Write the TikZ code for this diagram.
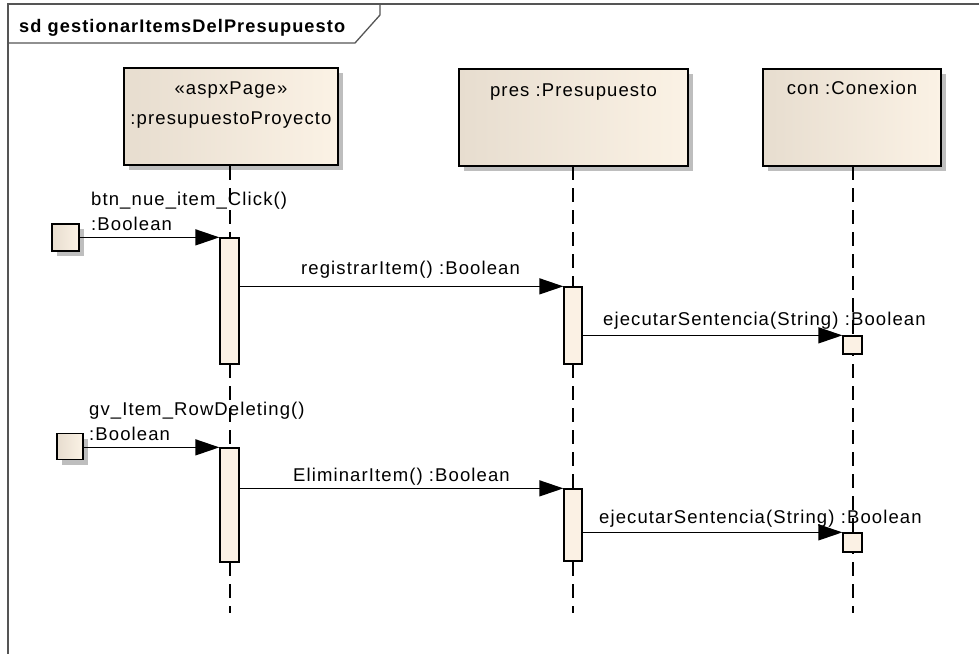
\documentclass[tikz,border=0pt]{standalone}
\usepackage{fontspec}
\setmainfont{Liberation Sans}[LetterSpace=6]
\usetikzlibrary{arrows.meta,shadows}

\definecolor{headL}{RGB}{231,221,207}
\definecolor{headM}{RGB}{248,238,224}
\definecolor{headR}{RGB}{251,242,229}
\definecolor{actfill}{RGB}{251,241,228}
\definecolor{shadowgray}{RGB}{190,190,190}
\definecolor{framegray}{RGB}{85,85,85}

\tikzset{
  lbl/.style={font=\fontsize{18.5}{21}\selectfont, inner sep=0pt},
  headbox/.style={draw=black, line width=1.5pt, rectangle,
    left color=headL, middle color=headM, right color=headR,
    minimum height=97pt, inner sep=0pt,
    drop shadow={shadow xshift=5pt, shadow yshift=-5pt, opacity=1, fill=shadowgray}},
  act/.style={draw=black, line width=1.3pt, fill=actfill, minimum width=19pt, inner sep=0pt},
  found/.style={draw=black, line width=1.4pt, left color=headL, right color=headR,
    minimum width=27pt, minimum height=27pt, inner sep=0pt,
    drop shadow={shadow xshift=5pt, shadow yshift=-5pt, opacity=1, fill=shadowgray}},
  lifeline/.style={draw=black, line width=1.3pt, dash pattern=on 14pt off 8pt},
  msg/.style={draw=black, line width=1.3pt, -{Triangle[length=24pt,width=16pt]}},
}

\begin{document}
\begin{tikzpicture}[x=1pt,y=-1pt]
  \useasboundingbox (0,0) rectangle (979,653);
  \clip (0,0) rectangle (979,653);
  \fill[white] (0,0) rectangle (979,653);

  % diagram frame and its name tab
  \draw[framegray, line width=1.5pt] (8,4) rectangle (1000,700);
  \draw[framegray, line width=1.3pt] (8,43) -- (355,43) -- (380,15) -- (380,4);
  \node[anchor=base west, inner sep=0pt, font=\bfseries\fontsize{18.2}{21}\selectfont] (title) at (19,32) {sd gestionarItemsDelPresupuesto};

  % lifeline heads
  \node[headbox, minimum width=214pt] (h1) at (231,116.5) {};
  \node[headbox, minimum width=229pt] (h2) at (573.5,117.5) {};
  \node[headbox, minimum width=178pt] (h3) at (852,117.5) {};
  \node[lbl, anchor=base] (h1a) at (231,94) {«aspxPage»};
  \node[lbl, anchor=base] (h1b) at (231,124) {:presupuestoProyecto};
  \node[lbl, anchor=base] (h2a) at (573.5,96) {pres :Presupuesto};
  \node[lbl, anchor=base] (h3a) at (852,94) {con :Conexion};

  % lifelines
  \coordinate (e1) at (230,613);
  \coordinate (e2) at (573,613);
  \coordinate (e3) at (853,613);
  \draw[lifeline] (230,166) -- (e1);
  \draw[lifeline] (573,166) -- (e2);
  \draw[lifeline] (853,166) -- (e3);

  % activations
  \node[act, minimum height=126pt] (a1) at (229.5,301) {};
  \node[act, minimum height=77pt, minimum width=18pt] (a2) at (573,325.5) {};
  \node[act, minimum height=18pt] (a3) at (852.5,345) {};
  \node[act, minimum height=114pt] (a4) at (229.5,505) {};
  \node[act, minimum height=72pt, minimum width=18pt] (a5) at (573,525) {};
  \node[act, minimum height=19pt] (a6) at (852.5,542.5) {};

  % found message sources
  \node[found] (f1) at (65.5,237.5) {};
  \node[found, minimum width=26pt, minimum height=26pt] (f2) at (70,446.5) {};

  % messages
  \draw[msg] (f1.east |- a1.north west) -- (a1.north west);
  \draw[msg] (a1.east |- a2.north west) -- (a2.north west);
  \draw[msg] (a2.east |- a3.north west) -- (a3.north west);
  \draw[msg] (f2.east |- a4.north west) -- (a4.north west);
  \draw[msg] (a4.east |- a5.north west) -- (a5.north west);
  \draw[msg] (a5.east |- a6.north west) -- (a6.north west);

  % message labels
  \node[lbl, anchor=base west] (m1a) at (91,205) {btn\_nue\_item\_Click()};
  \node[lbl, anchor=base west] (m1b) at (91,230) {:Boolean};
  \node[lbl, anchor=base west] (m2) at (301,274) {registrarItem() :Boolean};
  \node[lbl, anchor=base west] (m3) at (603,325) {ejecutarSentencia(String) :Boolean};
  \node[lbl, anchor=base west] (m4a) at (89,415) {gv\_Item\_RowDeleting()};
  \node[lbl, anchor=base west] (m4b) at (89,440) {:Boolean};
  \node[lbl, anchor=base west] (m5) at (293,481) {EliminarItem() :Boolean};
  \node[lbl, anchor=base west] (m6) at (599,523) {ejecutarSentencia(String) :Boolean};
\end{tikzpicture}
\end{document}
